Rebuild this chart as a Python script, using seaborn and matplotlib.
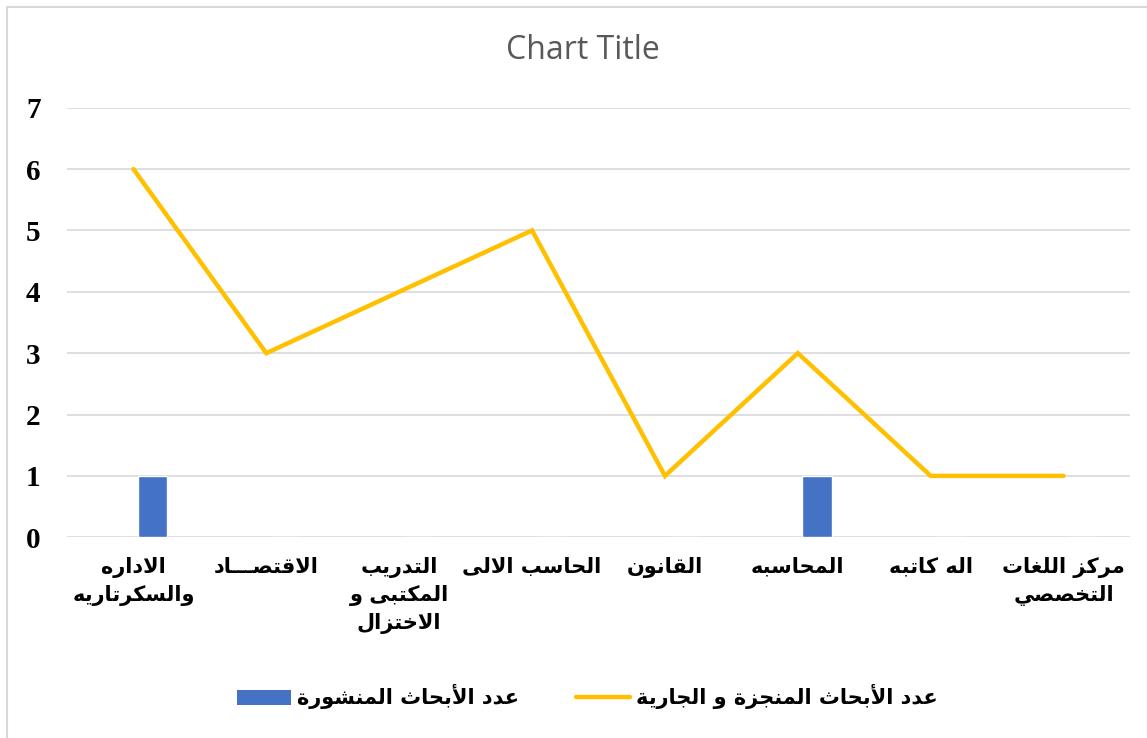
import numpy as np
import pandas as pd
import matplotlib
matplotlib.use("Agg")
import matplotlib.pyplot as plt
import seaborn as sns
from matplotlib.patches import Patch, Rectangle
from matplotlib.lines import Line2D

# data
categories = ["الاداره\nوالسكرتاريه", "الاقتصـــاد", "التدريب\nالمكتبى و\nالاختزال",
              "الحاسب الالى", "القانون", "المحاسبه", "اله كاتبه", "مركز اللغات\nالتخصصي"]
published = [1, 0, 0, 0, 0, 1, 0, 0]
done_running = [6, 3, 4, 5, 1, 3, 1, 1]
label_published = "عدد الأبحاث المنشورة"
label_done = "عدد الأبحاث المنجزة و الجارية"

# simple arabic shaping (matplotlib has no shaping / bidi)
LETTERS = "ءآأؤإئابةتثجحخدذرزسشصضطظعغفقكلمنهوىي"
NFORMS = [1, 2, 2, 2, 2, 4, 2, 4, 2, 4, 4, 4, 4, 4, 2, 2, 2, 2] + [4] * 15 + [2, 2, 4]
FORMS = {}
code = 0xFE80
for ch, n in zip(LETTERS, NFORMS):
    FORMS[ch] = [chr(code + k) for k in range(n)]
    code += n
LAM_ALEF = {"آ": (0xFEF5, 0xFEF6), "أ": (0xFEF7, 0xFEF8),
            "إ": (0xFEF9, 0xFEFA), "ا": (0xFEFB, 0xFEFC)}
TATWEEL = "ـ"


def dual(ch):
    return ch == TATWEEL or (ch in FORMS and len(FORMS[ch]) == 4)


def joins(ch):
    return ch == TATWEEL or (ch in FORMS and len(FORMS[ch]) > 1)


def shape(text):
    out = []
    for line in text.split("\n"):
        chars = list(line)
        res = []
        i = 0
        while i < len(chars):
            c = chars[i]
            prev = chars[i - 1] if i > 0 else ""
            link_prev = dual(prev)
            if c == "ل" and i + 1 < len(chars) and chars[i + 1] in LAM_ALEF:
                iso, fin = LAM_ALEF[chars[i + 1]]
                res.append(chr(fin if link_prev else iso))
                i += 2
                continue
            if c not in FORMS:
                res.append(c)
                i += 1
                continue
            nxt = chars[i + 1] if i + 1 < len(chars) else ""
            link_next = dual(c) and joins(nxt)
            f = FORMS[c]
            if link_prev and link_next:
                g = f[3]
            elif link_prev and len(f) > 1:
                g = f[1]
            elif link_next:
                g = f[2]
            else:
                g = f[0]
            res.append(g)
            i += 1
        out.append("".join(reversed(res)))
    return "\n".join(out)


sns.set_theme(style="white")
plt.rcParams["font.family"] = ["DejaVu Sans"]

n = len(categories)
idx = np.arange(n)
df = pd.DataFrame({"pos": idx + 0.145, "published": published})

fig = plt.figure(figsize=(11.47, 7.38), dpi=100)
ax = fig.add_axes([0.0584, 0.2720, 0.9268, 0.5821])

sns.barplot(data=df, x="pos", y="published", native_scale=True, width=0.22,
            color="#4472C4", saturation=1, ax=ax, zorder=2)
sns.lineplot(x=idx, y=done_running, color="#FFC000", linewidth=3.2, ax=ax,
             zorder=3, solid_capstyle="round", solid_joinstyle="miter")

ax.set_xlim(-0.5, n - 0.5)
ax.set_ylim(0, 7)
ax.set_yticks(range(0, 8))
ax.set_yticklabels([str(v) for v in range(0, 8)], fontfamily="Liberation Serif",
                   fontweight="bold", fontsize=21, color="black")
ax.set_xticks(idx)
ax.set_xticklabels([shape(c) for c in categories], fontfamily="DejaVu Sans",
                   fontweight="bold", fontsize=15, color="black",
                   linespacing=1.45, va="top")
ax.tick_params(axis="y", length=0, pad=19)
ax.tick_params(axis="x", length=0, pad=14)
ax.set_xlabel("")
ax.set_ylabel("")
ax.yaxis.grid(True, color="#D9D9D9", linewidth=1.2, zorder=0)
ax.xaxis.grid(False)
for s in ax.spines.values():
    s.set_visible(False)
ax.set_axisbelow(True)

fig.text(0.508, 0.932, "Chart Title", ha="center", va="center",
         fontfamily="Open Sans", fontsize=23, color="#595959")

handles = [Patch(facecolor="#4472C4", edgecolor="none"),
           Line2D([0], [0], color="#FFC000", linewidth=3.2, solid_capstyle="round")]
leg = fig.legend(handles, [shape(label_published), shape(label_done)], loc="center",
                 bbox_to_anchor=(0.512, 0.0556), ncol=2, frameon=False,
                 prop={"family": "DejaVu Sans", "weight": "bold", "size": 15},
                 handlelength=2.6, handleheight=0.75, handletextpad=0.3, columnspacing=2.7)
for t in leg.get_texts():
    t.set_color("black")

fig.add_artist(Rectangle((7 / 1147, -0.05), 1.1, 1 - 7 / 738 + 0.05,
                         transform=fig.transFigure, fill=False,
                         edgecolor="#D9D9D9", linewidth=1.5))

fig.savefig("out.png", dpi=100, facecolor="white")
